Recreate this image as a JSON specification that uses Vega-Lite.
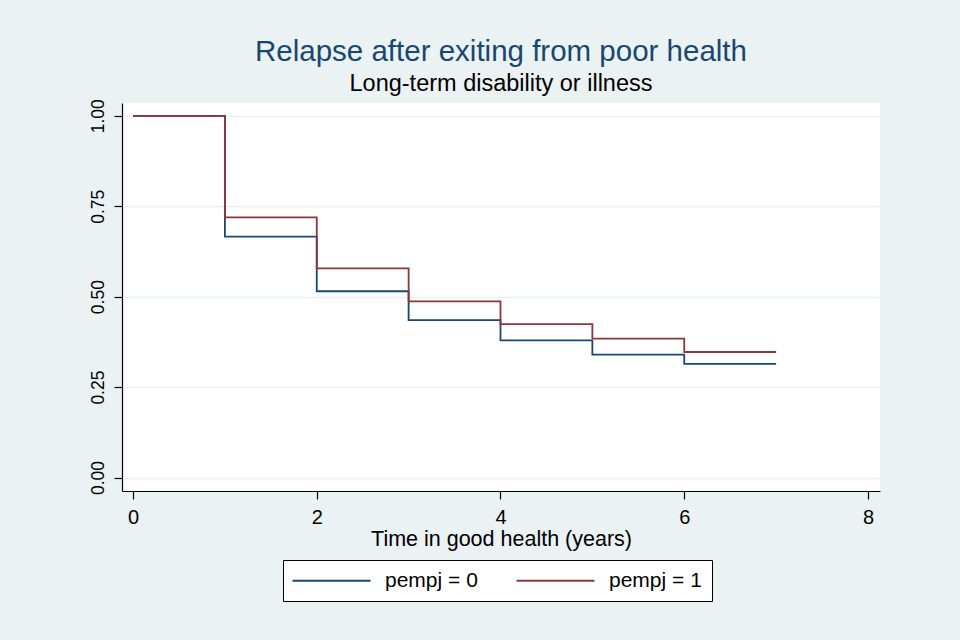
{
  "$schema": "https://vega.github.io/schema/vega-lite/v6.json",
  "width": 758,
  "height": 388,
  "autosize": {"type": "none"},
  "padding": {"left": 122, "top": 103, "right": 80, "bottom": 149},
  "background": "#eaf2f3",
  "title": {
    "text": "Relapse after exiting from poor health",
    "subtitle": "Long-term disability or illness",
    "anchor": "middle",
    "fontSize": 29.5,
    "fontWeight": "normal",
    "color": "#1a476f",
    "subtitleFontSize": 23.5,
    "subtitleColor": "#000000",
    "subtitlePadding": 5,
    "offset": 2
  },
  "data": {
    "values": [
      {"t": 0, "s": 1.0, "group": "pempj = 0"},
      {"t": 1, "s": 0.666, "group": "pempj = 0"},
      {"t": 2, "s": 0.515, "group": "pempj = 0"},
      {"t": 3, "s": 0.435, "group": "pempj = 0"},
      {"t": 4, "s": 0.379, "group": "pempj = 0"},
      {"t": 5, "s": 0.340, "group": "pempj = 0"},
      {"t": 6, "s": 0.314, "group": "pempj = 0"},
      {"t": 7, "s": 0.314, "group": "pempj = 0"},
      {"t": 0, "s": 1.0, "group": "pempj = 1"},
      {"t": 1, "s": 0.719, "group": "pempj = 1"},
      {"t": 2, "s": 0.578, "group": "pempj = 1"},
      {"t": 3, "s": 0.487, "group": "pempj = 1"},
      {"t": 4, "s": 0.424, "group": "pempj = 1"},
      {"t": 5, "s": 0.384, "group": "pempj = 1"},
      {"t": 6, "s": 0.347, "group": "pempj = 1"},
      {"t": 7, "s": 0.347, "group": "pempj = 1"}
    ]
  },
  "mark": {"type": "line", "interpolate": "step-after", "strokeWidth": 1.8},
  "encoding": {
    "x": {
      "field": "t",
      "type": "quantitative",
      "scale": {"domain": [-0.12, 8.131], "nice": false, "zero": false},
      "axis": {
        "values": [0, 2, 4, 6, 8],
        "title": "Time in good health (years)",
        "grid": false,
        "tickSize": 8,
        "labelPadding": 8,
        "labelFontSize": 20,
        "titleFontSize": 21.5,
        "titleFontWeight": "normal",
        "titlePadding": 1,
        "labelFlush": false
      }
    },
    "y": {
      "field": "s",
      "type": "quantitative",
      "scale": {"domain": [-0.0373, 1.0354], "nice": false, "zero": false},
      "axis": {
        "values": [0, 0.25, 0.5, 0.75, 1],
        "format": ".2f",
        "title": null,
        "grid": true,
        "gridColor": "#eaf2f3",
        "gridWidth": 1.5,
        "tickSize": 8,
        "labelAngle": 270,
        "labelAlign": "center",
        "labelBaseline": "alphabetic",
        "labelPadding": 11,
        "labelFontSize": 17.5,
        "labelFlush": false
      }
    },
    "color": {
      "field": "group",
      "type": "nominal",
      "scale": {"domain": ["pempj = 0", "pempj = 1"], "range": ["#1a476f", "#90353b"]},
      "legend": {
        "title": null,
        "orient": "none",
        "legendX": 161,
        "legendY": 457,
        "direction": "horizontal",
        "fillColor": "white",
        "strokeColor": "#000000",
        "padding": 10,
        "symbolType": "M-5,0L5,0",
        "symbolSize": 243,
        "symbolOffset": 28,
        "symbolStrokeWidth": 1.8,
        "labelFontSize": 21,
        "labelOffset": 43,
        "columnPadding": 34
      }
    }
  },
  "config": {
    "font": "Liberation Sans",
    "view": {"fill": "white", "stroke": null},
    "axis": {
      "domainColor": "#000000",
      "tickColor": "#000000",
      "labelColor": "#000000",
      "titleColor": "#000000",
      "domainWidth": 1.2,
      "tickWidth": 1.2
    }
  }
}
